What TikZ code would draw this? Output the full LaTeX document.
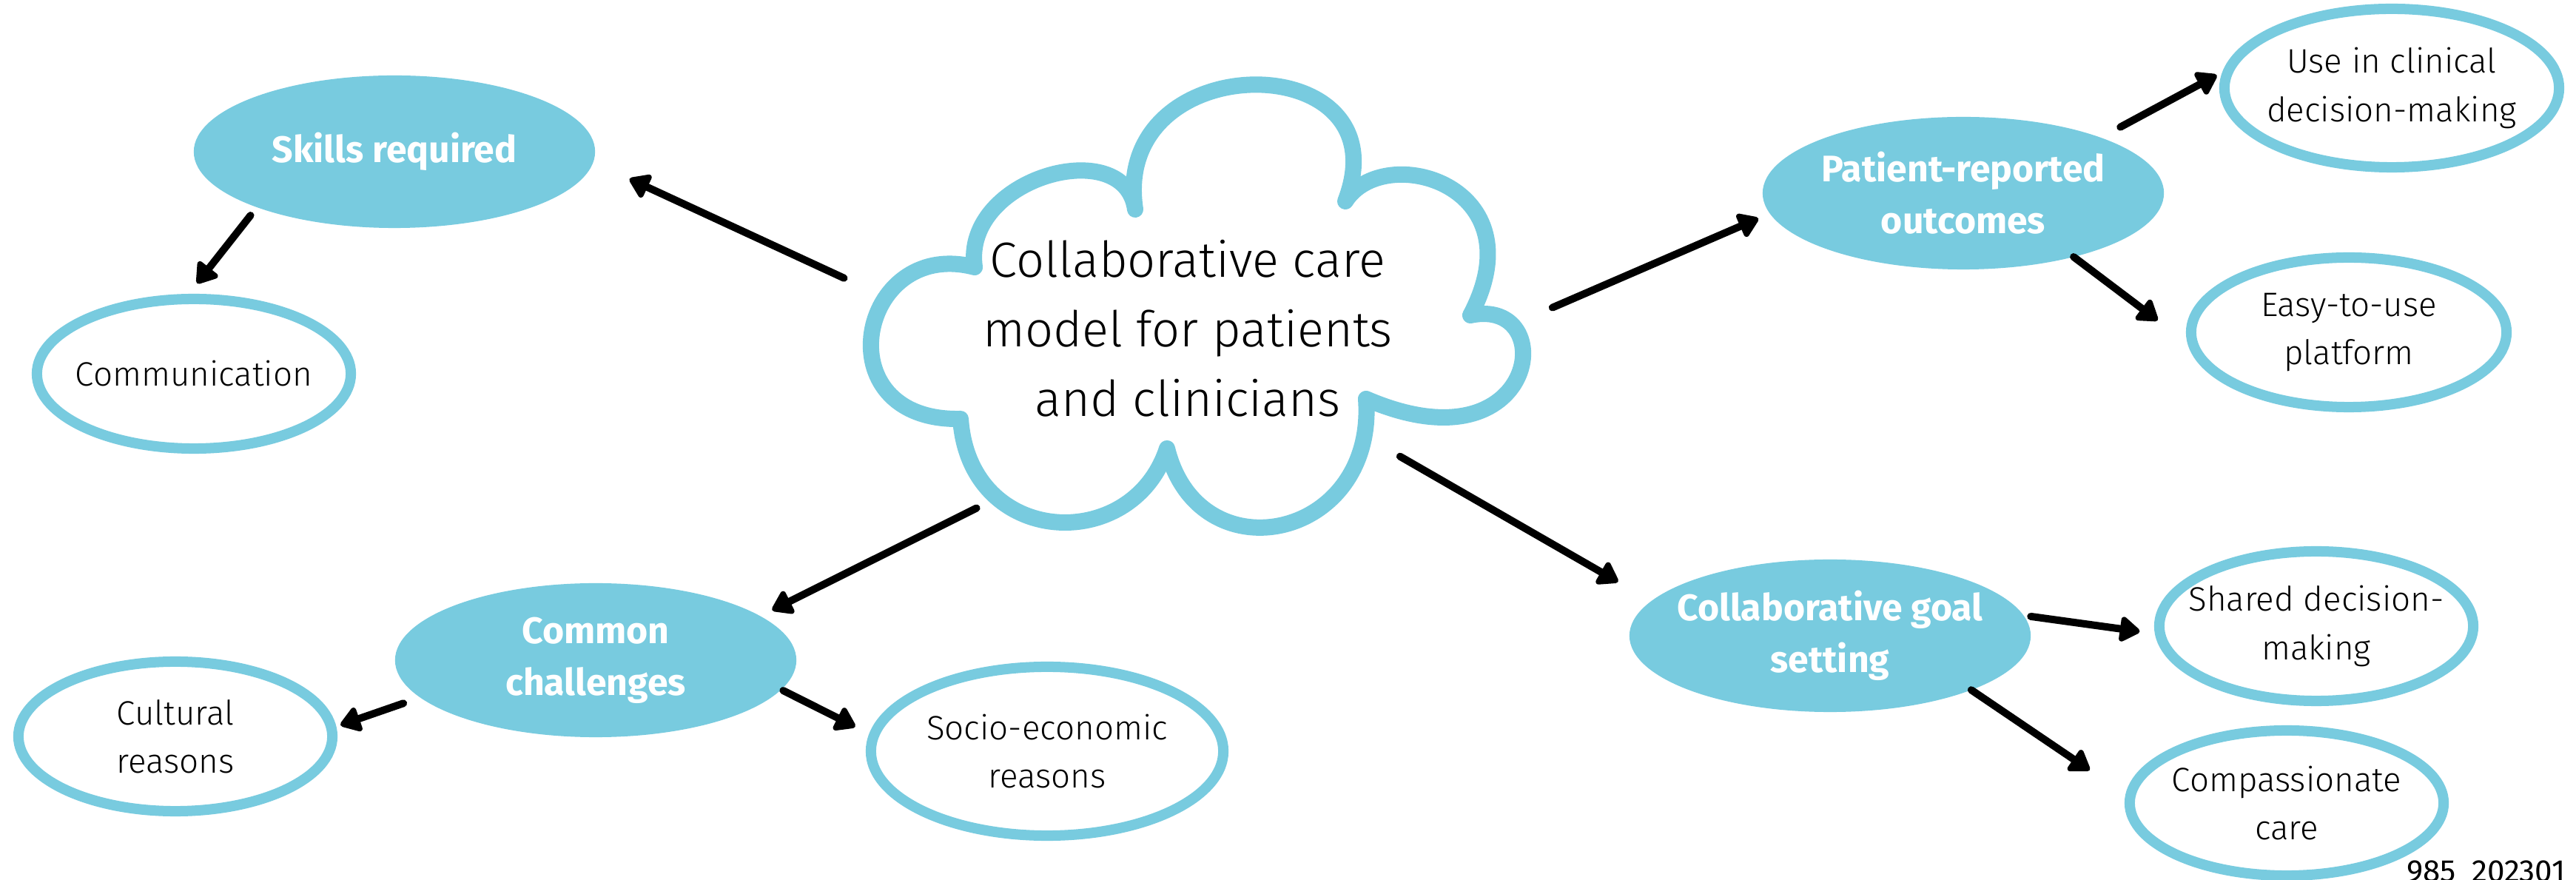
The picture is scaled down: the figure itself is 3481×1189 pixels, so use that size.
\documentclass[tikz,border=0pt]{standalone}
\usepackage{fontspec}
\setmainfont{Fira Sans}
\newfontfamily\lightfont{Fira Sans Light}
\usetikzlibrary{arrows.meta,shapes.geometric}
\definecolor{cloudblue}{HTML}{78CBDF}

\tikzset{
  topic/.style={ellipse, fill=cloudblue, text=white, inner sep=-0.6cm, outer sep=0pt,
    minimum width=5.42cm, minimum height=2.06cm, align=center,
    font=\bfseries\fontsize{14.2}{20}\selectfont},
  leaf/.style={ellipse, draw=cloudblue, line width=0.14cm, fill=white, inner sep=-0.6cm, outer sep=0pt,
    minimum width=4.24cm, minimum height=2.02cm, align=center,
    font=\lightfont\fontsize{13}{18.5}\selectfont},
  arr/.style={-{Triangle[length=0.3cm,width=0.38cm,round]}, line width=0.1cm, line cap=round},
}

\begin{document}
\begin{tikzpicture}[x=0.01cm,y=-0.01cm]
\useasboundingbox[fill=white] (0,0) rectangle (3481,1189);

% cloud in the middle
\draw[cloudblue, line width=0.22cm, line join=round]
  (1298,566) .. controls (1110,570) and (1160,320) .. (1317,361)
  .. controls (1300,240) and (1520,180) .. (1534,283)
  .. controls (1500,60) and (1900,60) .. (1818,272)
  .. controls (1870,190) and (2080,250) .. (1987,426)
  .. controls (2110,400) and (2080,640) .. (1846,539)
  .. controls (1860,730) and (1620,780) .. (1577,606)
  .. controls (1530,750) and (1310,740) .. cycle;
\node[ellipse, minimum width=8cm, minimum height=5.4cm, inner sep=0pt, outer sep=0pt] (cloud) at (1617,411) {};
\node[align=center, font=\lightfont\fontsize{19}{26.7}\selectfont] (title) at (1605,444)
  {Collaborative care\\model for patients\\and clinicians};

% topics
\node[topic] (skills) at (533,205) {Skills required};
\node[topic] (pro) at (2653,261) {Patient-reported\\outcomes};
\node[topic] (cgs) at (2473,859) {Collaborative goal\\setting};
\node[topic, minimum height=2.08cm] (cc) at (805,892) {Common\\challenges};

% leaves
\node[leaf] (comm) at (262,505) {Communication};
\node[leaf, minimum width=4.52cm, minimum height=2.14cm] (use) at (3232,119) {Use in clinical\\decision-making};
\node[leaf, minimum width=4.26cm] (easy) at (3174,449) {Easy-to-use\\platform};
\node[leaf] (shared) at (3130,846) {Shared decision-\\making};
\node[leaf, minimum height=1.96cm] (comp) at (3090,1085) {Compassionate\\care};
\node[leaf] (cult) at (237,995) {Cultural\\reasons};
\node[leaf, minimum width=4.76cm, minimum height=2.28cm] (socio) at (1415,1015) {Socio-economic\\reasons};

\node[anchor=base east, font=\fontsize{12}{13}\selectfont] (code) at (3479,1192) {985\hspace{0.5em}202301};

% arrows
\draw[arr, shorten <=0.84cm, shorten >=0.54cm] (cloud.180) -- (skills.-3);
\draw[arr, shorten <=0.14cm, shorten >=0.27cm] (skills.-158) -- (comm.97);
\draw[arr, shorten <=1cm, shorten >=0.18cm] (cloud.-132) -- (cc.15);
\draw[arr, shorten <=0.24cm, shorten >=0.13cm] (cc.-168) -- (cult.3);
\draw[arr, shorten <=0.03cm, shorten >=0.28cm] (cc.-9) -- (socio.175);
\draw[arr, shorten <=0.93cm, shorten >=0.17cm] (cloud.-6) -- (pro.-174);
\draw[arr, shorten <=0.3cm, shorten >=0.2cm] (pro.22) -- (use.173);
\draw[arr, shorten >=0.63cm] (pro.-30) -- (easy.-174);
\draw[arr, shorten <=0.09cm, shorten >=0.52cm] (cloud.-37) -- (cgs.169);
\draw[arr, shorten <=0.1cm, shorten >=0.28cm] (cgs.6) -- (shared.-177);
\draw[arr, shorten >=0.66cm] (cgs.-21) -- (comp.178);
\end{tikzpicture}
\end{document}
